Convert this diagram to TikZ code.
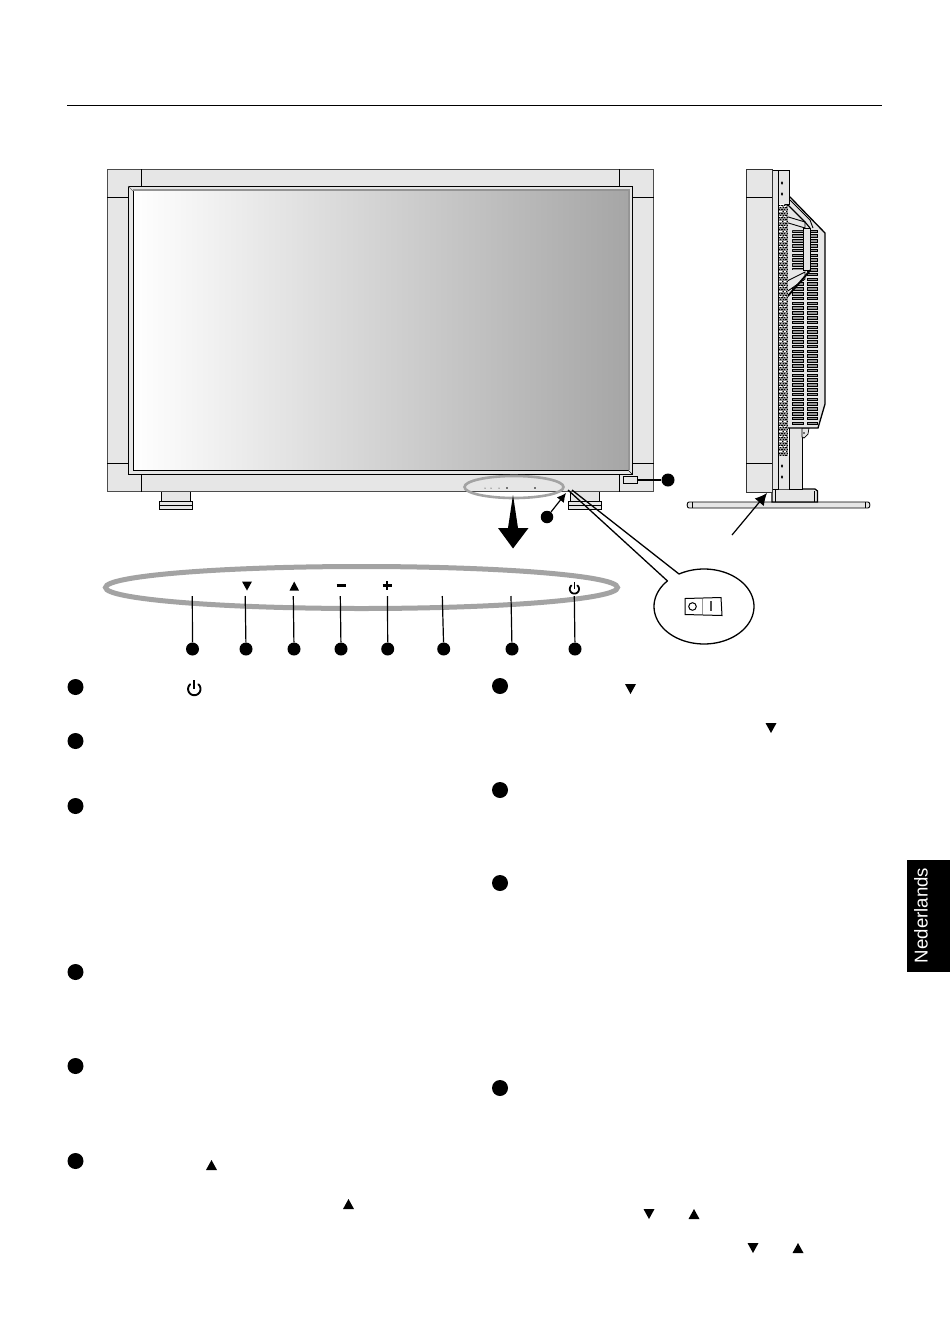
\documentclass[tikz,border=0pt]{standalone}
\usepackage{fontspec}
\setmainfont{Liberation Sans}
\usetikzlibrary{arrows.meta}
\definecolor{framegray}{HTML}{E6E6E6}
\definecolor{ringgray}{HTML}{A3A3A3}
\tikzset{
  numdot/.style={circle,fill=black,inner sep=0pt,minimum size=13pt},
  listdot/.style={circle,fill=black,inner sep=0pt,minimum size=16pt},
  ln/.style={draw=black,line width=1.2pt},
  panel/.style={fill=framegray,draw=black,line width=.9pt},
  tri/.style={fill=black,draw=none},
  ventbar/.style={line width=.7pt,fill=black!42},
}
\newcommand{\pwr}[4]{% x, y, r, line width
  \draw[line width=#4,line cap=round] plot[domain=-50:230,samples=30] ({#1+#3*cos(\x)},{#2+#3*sin(\x)});
  \draw[line width=#4] (#1,#2-1.45*#3) -- (#1,#2);
}
\newcommand{\tridown}[2]{\fill[tri] (#1-5.5,#2-5) -- (#1+5.5,#2-5) -- (#1,#2+5) -- cycle;}
\newcommand{\triup}[2]{\fill[tri] (#1-5.5,#2+5) -- (#1+5.5,#2+5) -- (#1,#2-5) -- cycle;}
\begin{document}
\begin{tikzpicture}[x=1pt,y=-1pt]
\useasboundingbox (0,0) rectangle (950,1344);
\fill[white] (0,0) rectangle (950,1344);
% top rule
\draw[line width=1pt] (67,105) -- (882,105);
% feet of the front view
\foreach \fx in {159,568}{
  \draw[panel] (\fx+2,490) rectangle (\fx+31,501);
  \draw[panel] (\fx,501) rectangle (\fx+33,509);
  \draw[line width=.5pt] (\fx,505) -- (\fx+33,505);
}
% front frame
\draw[panel,draw=black!70] (107,169) rectangle (653.5,491.5);
\draw[line width=.9pt] (141,169) -- (141,191);
\draw[line width=.9pt] (107,197) -- (133,197);
\draw[line width=.9pt] (619,169) -- (619,191);
\draw[line width=.9pt] (632,197) -- (653.5,197);
\draw[line width=.9pt] (107,463) -- (133,463);
\draw[line width=.9pt] (632,463) -- (653.5,463);
\draw[line width=.9pt] (141,470) -- (141,491.5);
\draw[line width=.9pt] (619,470) -- (619,491.5);
\fill[white] (128,186) rectangle (632,474);
\fill[framegray] (128,186) rectangle (133,474);
\fill[framegray] (128,186) rectangle (632,189);
\fill[framegray] (628,186) rectangle (632,474);
\fill[framegray] (128,470) rectangle (632,474);
\fill[black!42] (133,189) rectangle (629,191);
\fill[black!42] (628,189) rectangle (630,470);
\shade[left color=white,middle color=black!14,right color=black!35] (133,191) rectangle (628,469.5);
\draw[line width=.9pt] (128,186) rectangle (632,474);
\draw[line width=.9pt] (133,191) -- (133,470) -- (628,470);
\draw[line width=.7pt] (628,470) -- (632,474);
\draw[line width=.7pt,black!60] (128,186) -- (133,191);
% small ring, button row in the front view
\draw[line width=2.6pt,ringgray] (514,487) ellipse [x radius=49.5,y radius=11];
\foreach \tx in {485,491,499}{\fill (\tx,488) circle (.5);}
\fill (507,488) circle (.9);
\fill (535,488) circle (.8);
% small sensor
\draw[line width=.9pt,fill=framegray] (623.5,476) rectangle (637,483);
\node[numdot] (sensorDot) at (668,480) {};
\coordinate (sensorEnd) at (637,480);
\draw[ln] (sensorEnd) -- (sensorDot);
% block arrow
\fill (513,495) -- (518,528) -- (528.5,528) -- (513,548.5) -- (498,528) -- (508,528) -- cycle;
% arrow to switch
\node[numdot,minimum size=12.5pt] (switchDot) at (547,517) {};
\coordinate (switchTip) at (566,493);
\draw[-{Latex[length=9pt,width=9pt]},line width=1.2pt] (switchDot) -- (switchTip);
% balloon
\coordinate (callA) at (568,490);
\coordinate (callB) at (572,490);
\draw[line width=1.3pt,line join=round] (callB) -- (679,574) --
  plot[domain=-120:223,samples=80] ({704+50*cos(\x)},{606.5+37.5*sin(\x)}) -- (callA);
% rocker
\draw[line width=1pt] (685,598.5) -- (721,597.5) -- (722,615.5) -- (685,614.5) -- cycle;
\draw[line width=1pt] (692.5,606.5) circle (3.8);
\draw[line width=.6pt,black!40] (702,599) -- (702,614);
\draw[line width=1.3pt,black!70] (711,601) -- (711,611);
% big ring
\draw[line width=5pt,ringgray] (361.5,587.5) ellipse [x radius=256,y radius=21];
% symbols
\fill (242,581.5) -- (252,581.5) -- (247,590.5) -- cycle;
\fill (289.5,590.5) -- (299,590.5) -- (294.2,581.5) -- cycle;
\draw[line width=2.2pt] (336.5,585.5) -- (345.5,585.5);
\draw[line width=2.2pt] (382.5,585.5) -- (391.5,585.5);
\draw[line width=2.2pt] (387,581) -- (387,590);
\pwr{574.4}{589}{4.6}{1.8pt}
% numbered dots under the ring
\foreach \n/\dx/\lx in {a/192.5/192.3,b/246/245.2,c/294/293.3,d/341/340.3,e/387.7/387.5,f/443.7/442.3,g/512/511,h/575/574.3}{
  \node[numdot] (row\n) at (\dx,649) {};
  \coordinate (top\n) at (\lx,596);
  \draw[ln] (top\n) -- (row\n);
}
% side view: stand
\draw[panel] (689,502) -- (868,502) .. controls (870.5,502) and (870.5,508) .. (868,508) -- (689,508) .. controls (686.5,508) and (686.5,502) .. (689,502) -- cycle;
\draw[line width=.6pt] (692,502) -- (692,508);
\draw[line width=.6pt] (865,502) -- (865,508);
\draw[panel,line width=1.2pt] (772,489) -- (815,489) -- (817.5,491) -- (817.5,502) -- (772,502) -- cycle;
\draw[line width=.6pt] (775,490) -- (775,502);
\draw[line width=.6pt] (814.5,491) -- (814.5,502);
% side view: column
\draw[panel] (789,426) rectangle (802,489);
% clip
\draw[line width=.7pt,fill=framegray] (802,428) -- (809,428) -- (808,434) -- (804,438) -- (802,437) -- cycle;
\fill (804,433) circle (.8);
% rear housing
\draw[fill=framegray,line width=1.3pt] (785,197) -- (790,197) -- (825,233) -- (825,404) -- (818,428) -- (785,428) -- cycle;
% vent bars
\foreach \vy in {230,234.8,...,424}{
  \draw[ventbar] (792.5,\vy) rectangle (803,\vy+2.6);
  \draw[ventbar] (807,\vy) rectangle (817.5,\vy+2.6);
}
% handle
\fill[framegray] (785,203) -- (805,222) -- (805,230) -- (792,230) -- (792,270) -- (805,270) -- (805,275) -- (785,293) -- cycle;
\draw[panel,fill=framegray] (803.5,228) rectangle (810.5,270);
\draw[panel] (785,216) -- (805,222) -- (805,228) -- (785,222) -- cycle;
\draw[panel] (785,282) -- (805,272) -- (805,279) -- (785,293) -- cycle;
\draw[line width=1.2pt] (785,202) -- (805,222) -- (810,228);
\draw[line width=1.8pt] (787,297) -- (810.5,270);
\draw[line width=.9pt] (790,200) -- (810,220) -- (813,228);
% side view: panel
\draw[panel] (772,170.5) rectangle (778,489);
\fill[framegray] (778,170.5) rectangle (789.5,204);
\fill[framegray] (778,456) rectangle (789.5,489);
\draw[line width=.9pt] (778,170.5) -- (778,489);
\draw[line width=.9pt] (772,170.5) -- (789.5,170.5) -- (789.5,204);
\draw[line width=.9pt] (789.5,428) -- (789.5,489);
\draw[line width=.7pt] (785,204) -- (789.5,204);
% perforated strip
\fill[black!45] (779,205) rectangle (788,456);
\foreach \py in {205,207,...,455}{
  \draw[line width=1pt,black,dash pattern=on 1.4pt off 1.4pt,dash phase=\py/2*1.4pt] (779,\py) -- (788,\py);
}
\foreach \py in {206,211,...,454}{
  \draw[line width=.8pt,white,dash pattern=on 2.5pt off 2pt] (779,\py) -- (788,\py);
}
\fill (782,183) ellipse [x radius=1.1,y radius=1.8];
\fill (782,194) ellipse [x radius=1.1,y radius=1.8];
\fill (782,466) ellipse [x radius=1.1,y radius=1.8];
\fill (782,477) ellipse [x radius=1.1,y radius=1.8];
\draw[panel,draw=black!80] (746,169) rectangle (772,492);
\draw[line width=.9pt] (746,197) -- (772,197);
\draw[line width=.9pt] (746,463) -- (772,463);
% stand arrow
\coordinate (standFree) at (732,535);
\coordinate (standTip) at (767,493);
\draw[-{Latex[length=12pt,width=12pt]},line width=1.2pt] (standFree) -- (standTip);
% list dots
\foreach \n/\ly in {1/687,2/741,3/806,4/972,5/1066,6/1161}{
  \node[listdot] (left\n) at (75.5,\ly) {};
}
\foreach \n/\ly in {1/686,2/790,3/883,4/1088}{
  \node[listdot] (right\n) at (500,\ly) {};
}
% inline symbols
\pwr{194.3}{689}{6.2}{1.9pt}
\triup{211.5}{1165}
\triup{348.5}{1204}
\tridown{630.5}{689}
\tridown{771}{728}
\tridown{649}{1214}
\triup{694}{1214}
\tridown{753}{1248}
\triup{798}{1248}
% language tab
\fill (907,860) rectangle (950,972);
\node[rotate=90,text=white,font=\fontsize{18.6pt}{20pt}\selectfont,inner sep=0pt] (tab) at (921,915.5) {Nederlands};
\end{tikzpicture}
\end{document}
